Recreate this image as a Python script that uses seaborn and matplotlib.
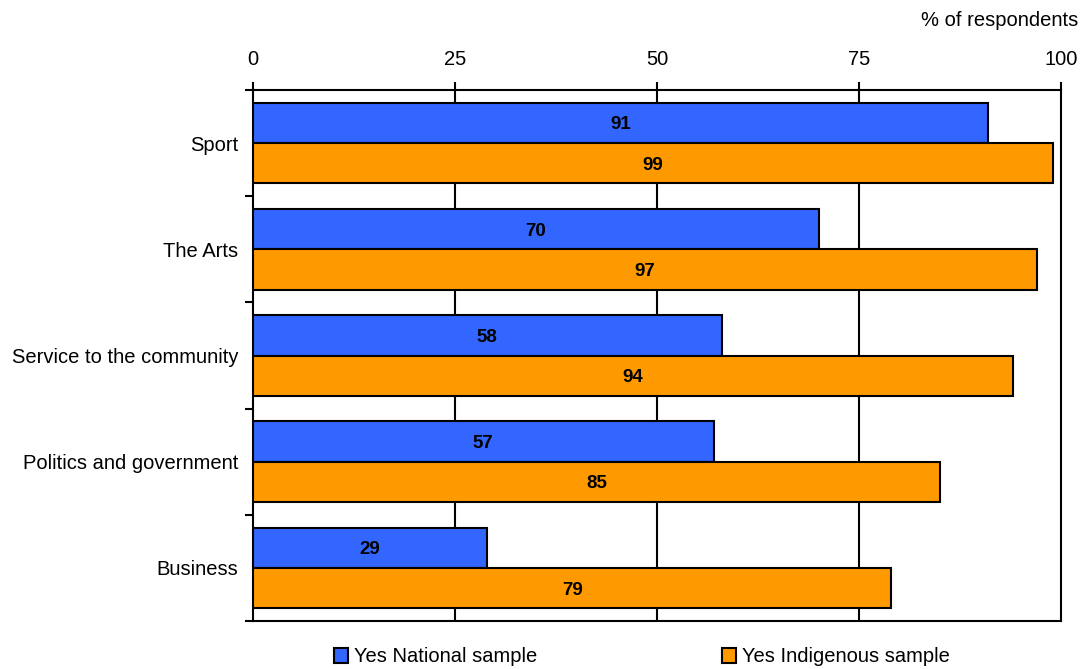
import matplotlib
matplotlib.use("Agg")
import matplotlib.pyplot as plt
import seaborn as sns
import pandas as pd
from matplotlib.patches import Patch
from matplotlib.ticker import FixedLocator

categories = ["Sport", "The Arts", "Service to the community",
              "Politics and government", "Business"]
national = [91, 70, 58, 57, 29]
indigenous = [99, 97, 94, 85, 79]
series_names = ["Yes National sample", "Yes Indigenous sample"]
colors = ["#3366FF", "#FF9900"]
x_ticks = [0, 25, 50, 75, 100]

df = pd.DataFrame({
    "category": categories * 2,
    "value": national + indigenous,
    "series": [series_names[0]] * len(categories) + [series_names[1]] * len(categories),
})

sns.set_theme(style="white")
plt.rcParams["font.family"] = ["Liberation Sans", "DejaVu Sans"]
plt.rcParams["text.color"] = "black"
plt.rcParams["xtick.color"] = "black"
plt.rcParams["ytick.color"] = "black"

fig = plt.figure(figsize=(10.83, 6.69), dpi=100)
ax = fig.add_axes([253 / 1083, 1 - 621 / 669, (1061 - 253) / 1083, (621 - 90) / 669])

sns.barplot(data=df, y="category", x="value", hue="series", orient="h",
            palette=colors, order=categories, hue_order=series_names,
            width=0.76, edgecolor="black", linewidth=1.5, saturation=1,
            legend=False, ax=ax, zorder=3)

# value labels centred inside each bar
for container in ax.containers:
    for bar in container:
        w = bar.get_width()
        ax.text(bar.get_x() + w / 2, bar.get_y() + bar.get_height() / 2,
                f"{w:.0f}", ha="center", va="center_baseline",
                fontsize=13.5, fontweight="bold", color="black", zorder=4)

ax.set_xlim(0, 100)
ax.set_ylim(len(categories) - 0.5, -0.5)
ax.xaxis.tick_top()
ax.set_xticks(x_ticks)
ax.set_xticklabels([str(t) for t in x_ticks])
ax.tick_params(axis="x", which="major", direction="out", length=6, width=1.5,
               color="black", labelcolor="black", pad=9, labelsize=14.5)
ax.set_xlabel("")
ax.set_ylabel("")

# category labels centred in bands, ticks at band boundaries
ax.yaxis.set_minor_locator(FixedLocator([i - 0.5 for i in range(len(categories) + 1)]))
ax.tick_params(axis="y", which="major", length=0, pad=10.5, labelsize=14.5,
               labelcolor="black")
ax.tick_params(axis="y", which="minor", direction="out", length=6, width=1.5,
               color="black", left=True)

for x in x_ticks[1:-1]:
    ax.axvline(x, color="black", linewidth=1.5, zorder=1)

for s in ax.spines.values():
    s.set_visible(True)
    s.set_color("black")
    s.set_linewidth(1.5)

fig.text(1078 / 1083, 1 - 21 / 669, "% of respondents", ha="right", va="center",
         fontsize=14.5, color="black")

handles = [Patch(facecolor=c, edgecolor="black", linewidth=1.5) for c in colors]
fig.legend(handles, series_names, loc="center", bbox_to_anchor=(642 / 1083, 1 - 657 / 669),
           ncol=2, frameon=False, fontsize=14.5, handlelength=0.7, handleheight=0.7,
           handletextpad=0.3, columnspacing=9.2, labelcolor="black")

fig.savefig("out.png", dpi=100)
